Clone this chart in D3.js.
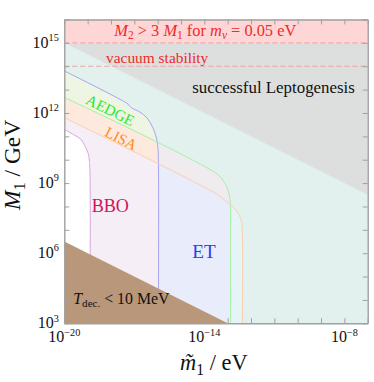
<!DOCTYPE html>
<html>
<head>
<meta charset="utf-8">
<script src="https://cdn.jsdelivr.net/npm/d3@7"></script>
<style>
  html, body { margin: 0; padding: 0; background: #fff; }
  svg { display: block; font-family: "Liberation Serif", "DejaVu Serif", serif; }
</style>
</head>
<body>
<svg id="chart" width="374" height="382"></svg>
<script>
'use strict'

// axis ranges (powers of ten)
var xExp = [-20, -7];
var yExp = [3, 16];
var xTickExp = d3.range(-20, -6);
var yTickExp = d3.range(3, 17);
var xLabelExp = [-20, -14, -8];
var yLabelExp = [3, 6, 9, 12, 15];

// detector boundaries, [log10 m1tilde/eV, log10 M1/GeV]
var bboCurve = [[-20, 11.3], [-19.6, 11.07], [-19.3, 10.88], [-19.1, 10.55], [-18.98, 10.28],
    [-18.93, 9.99], [-18.9, 9.5], [-18.9, 3]];
var etCurve = [[-20, 13.8], [-18.47, 13.03], [-17.61, 12.58], [-17.27, 12.38], [-17.14, 12.23],
    [-16.76, 12.04], [-16.46, 11.79], [-16.24, 11.44], [-16.09, 11.06], [-16.0, 10.63],
    [-15.97, 9.99], [-15.97, 3]];
var aedgeCurve = [[-20, 12.67], [-13.47, 9.4], [-13.2, 9.11], [-13.04, 8.85], [-12.93, 8.49],
    [-12.885, 8.06], [-12.876, 7.42], [-12.876, 3]];
var lisaCurve = [[-20, 11.8], [-13.54, 8.57], [-13.11, 8.26], [-12.77, 7.96], [-12.53, 7.68],
    [-12.41, 7.34], [-12.37, 6.86], [-12.37, 3]];

// other bounds
var leptoEdge = [[-20, 15], [-7, 8.5]];   // successful leptogenesis above this
var decayEdge = [[-20, 6.5], [-13, 3]];   // T_dec < 10 MeV below this
var m2Bound = 15;
var vacuumBound = 14;

var W = 374, H = 382;
var plotL = 64.3, plotR = 367.7, plotT = 19.5, plotB = 323.3;

var x = d3.scaleLog().domain(xExp.map(function(e){ return Math.pow(10, e); })).range([plotL, plotR]);
var y = d3.scaleLog().domain(yExp.map(function(e){ return Math.pow(10, e); })).range([plotB, plotT]);
function px(e){ return x(Math.pow(10, e)); }
function py(e){ return y(Math.pow(10, e)); }

var svg = d3.select("#chart");
var defs = svg.append("defs");

defs.append("clipPath").attr("id", "plotClip")
    .append("rect").attr("x", plotL).attr("y", plotT)
    .attr("width", plotR - plotL).attr("height", plotB - plotT);

var curveLine = d3.line()
    .x(function(d){ return px(d[0]); })
    .y(function(d){ return py(d[1]); })
    .curve(d3.curveCatmullRom.alpha(0.5));

// region right of / above a detector curve
function regionPath(pts){
    return curveLine(pts) +
        "L" + px(xExp[1]) + "," + py(yExp[0]) +
        "L" + px(xExp[1]) + "," + py(yExp[1]) +
        "L" + px(xExp[0]) + "," + py(yExp[1]) + "Z";
}

defs.append("clipPath").attr("id", "clipET").append("path").attr("d", regionPath(etCurve));
defs.append("clipPath").attr("id", "clipLISA").append("path").attr("d", regionPath(lisaCurve));

var plot = svg.append("g").attr("clip-path", "url(#plotClip)");

plot.append("rect").attr("x", plotL).attr("y", plotT)
    .attr("width", plotR - plotL).attr("height", plotB - plotT).attr("fill", "#fff");

// overlapping sensitivity regions
plot.append("path").attr("d", regionPath(bboCurve)).attr("fill", "#f5eef7");
plot.append("path").attr("d", regionPath(etCurve)).attr("fill", "#e9ecfa");
plot.append("path").attr("d", regionPath(lisaCurve)).attr("fill", "#fde9dd");
plot.append("path").attr("d", regionPath(lisaCurve)).attr("fill", "#efebee")
    .attr("clip-path", "url(#clipET)");
plot.append("path").attr("d", regionPath(aedgeCurve)).attr("fill", "#eef5e2");
plot.append("path").attr("d", regionPath(aedgeCurve)).attr("fill", "#e5f4f4")
    .attr("clip-path", "url(#clipET)");
plot.append("g").attr("clip-path", "url(#clipET)")
    .append("path").attr("d", regionPath(aedgeCurve)).attr("fill", "#e3f1ee")
    .attr("clip-path", "url(#clipLISA)");

// boundary lines
var curves = [
    {pts: bboCurve, color: "#d9a6dd"},
    {pts: etCurve, color: "#a4a4f2"},
    {pts: aedgeCurve, color: "#a6eea6"},
    {pts: lisaCurve, color: "#f9cfae"}
];
plot.selectAll("path.det").data(curves).enter().append("path")
    .attr("class", "det")
    .attr("d", function(d){ return curveLine(d.pts); })
    .attr("fill", "none").attr("stroke", function(d){ return d.color; })
    .attr("stroke-width", 1);

// successful leptogenesis
plot.append("path")
    .attr("d", "M" + px(leptoEdge[0][0]) + "," + py(leptoEdge[0][1]) +
        "L" + px(leptoEdge[1][0]) + "," + py(leptoEdge[1][1]) +
        "L" + px(xExp[1]) + "," + py(m2Bound) +
        "L" + px(xExp[0]) + "," + py(m2Bound) + "Z")
    .attr("fill", "#dcdfde");

// M2 > 3 M1 band
plot.append("rect").attr("x", plotL).attr("y", py(yExp[1]))
    .attr("width", plotR - plotL).attr("height", py(m2Bound) - py(yExp[1]))
    .attr("fill", "#ffd6d6");

plot.selectAll("line.bound").data([m2Bound, vacuumBound]).enter().append("line")
    .attr("class", "bound")
    .attr("x1", plotL).attr("x2", plotR)
    .attr("y1", function(d){ return py(d); }).attr("y2", function(d){ return py(d); })
    .attr("stroke", "#f2a2a2").attr("stroke-width", 1).attr("stroke-dasharray", "5,3");

// decoupling temperature region
plot.append("path")
    .attr("d", "M" + px(decayEdge[0][0]) + "," + py(decayEdge[0][1]) +
        "L" + px(decayEdge[1][0]) + "," + py(decayEdge[1][1]) +
        "L" + px(xExp[0]) + "," + py(yExp[0]) + "Z")
    .attr("fill", "#b9977a");

// axes frame and inward ticks
var axisColor = "#a0a0a0";
function styleAxis(g){
    g.selectAll("path, line").attr("stroke", axisColor);
    g.select(".domain").attr("stroke-width", 1.4);
    g.selectAll("text").remove();
}
function axisOf(gen){ return gen.tickSize(-5).tickSizeOuter(0).tickFormat(""); }
var xTicks = xTickExp.map(function(e){ return Math.pow(10, e); });
var yTicks = yTickExp.map(function(e){ return Math.pow(10, e); });

svg.append("g").attr("transform", "translate(0," + plotB + ")")
    .call(axisOf(d3.axisBottom(x).tickValues(xTicks))).call(styleAxis);
svg.append("g").attr("transform", "translate(0," + plotT + ")")
    .call(axisOf(d3.axisTop(x).tickValues(xTicks))).call(styleAxis);
svg.append("g").attr("transform", "translate(" + plotL + ",0)")
    .call(axisOf(d3.axisLeft(y).tickValues(yTicks))).call(styleAxis);
svg.append("g").attr("transform", "translate(" + plotR + ",0)")
    .call(axisOf(d3.axisRight(y).tickValues(yTicks))).call(styleAxis);

// text with italic / sub / sup parts
function richText(fs, parts, color, transform, supScale){
    var k = supScale || 0.7;
    var t = svg.append("text").attr("font-size", fs).attr("fill", color);
    if (transform) t.attr("transform", transform);
    var off = 0;
    parts.forEach(function(p){
        var shift = p.sub ? 0.22 * fs : (p.sup ? -0.42 * fs : 0);
        var ts = t.append("tspan").text(p.t).attr("dy", shift - off);
        off = shift;
        if (p.sub || p.sup) ts.attr("font-size", k * fs);
        if (p.i) ts.attr("font-style", "italic");
    });
    return t;
}
// same, sized so that it spans [x0, x1]
function fitted(parts, x0, x1, base, color, transform){
    var probe = richText(20, parts, color, transform);
    var w = probe.node().getBBox().width;
    probe.remove();
    var t = richText(20 * (x1 - x0) / w, parts, color, transform);
    var bb = t.node().getBBox();
    t.attr("x", x0 - bb.x).attr("y", base);
    return t;
}
function plain(s){ return [{t: s}]; }

fitted([{t: "M", i: true}, {t: "2", sub: true}, {t: " > 3 "},
        {t: "M", i: true}, {t: "1", sub: true}, {t: " for "},
        {t: "m", i: true}, {t: "ν", sub: true, i: true}, {t: " = 0.05 eV"}],
    113.3, 296.7, 35.5, "#ee2a2a");
fitted(plain("vacuum stability"), 106, 208.3, 63.3, "#ee2a2a");
fitted(plain("successful Leptogenesis"), 192.3, 355, 93.3, "#111");
fitted(plain("BBO"), 91.7, 129, 211.7, "#d0145a");
fitted(plain("ET"), 192.3, 215.7, 258.3, "#2a3ef0");
fitted([{t: "T", i: true}, {t: "dec.", sub: true}, {t: " < 10 MeV"}],
    73.3, 170, 303.5, "#111");

// slanted detector names, centred on the diagonals
var tilt = Math.atan2(py(0) - py(1), px(2) - px(0)) * 180 / Math.PI;
[{t: "AEDGE", xe: -18.02, ye: 12.13, len: 52, c: "#2ee82e"},
 {t: "LISA", xe: -17.55, ye: 10.92, len: 34, c: "#ff8a1e"}].forEach(function(d){
    var tr = "translate(" + px(d.xe) + "," + py(d.ye) + ") rotate(" + tilt + ")";
    fitted(plain(d.t), -d.len / 2, d.len / 2, 5.5, d.c, tr);
});

// tick labels
var tickFs = 16;
xLabelExp.forEach(function(e){
    richText(tickFs, [{t: "10"}, {t: String(e).replace("-", "\u2212"), sup: true}], "#111", null, 0.64)
        .attr("x", px(e)).attr("y", plotB + 19).attr("text-anchor", "middle");
});
yLabelExp.forEach(function(e){
    richText(tickFs, [{t: "10"}, {t: String(e), sup: true}], "#111", null, 0.64)
        .attr("x", plotL - 5.5).attr("y", py(e) + 5).attr("text-anchor", "end");
});

// axis titles
fitted([{t: "m\u0303", i: true}, {t: "1", sub: true}, {t: " / eV"}], 180, 248.3, 370, "#111");
fitted([{t: "M", i: true}, {t: "1", sub: true}, {t: " / GeV"}], -46, 46, 0, "#111",
    "translate(20,165) rotate(-90)");
</script>
</body>
</html>
